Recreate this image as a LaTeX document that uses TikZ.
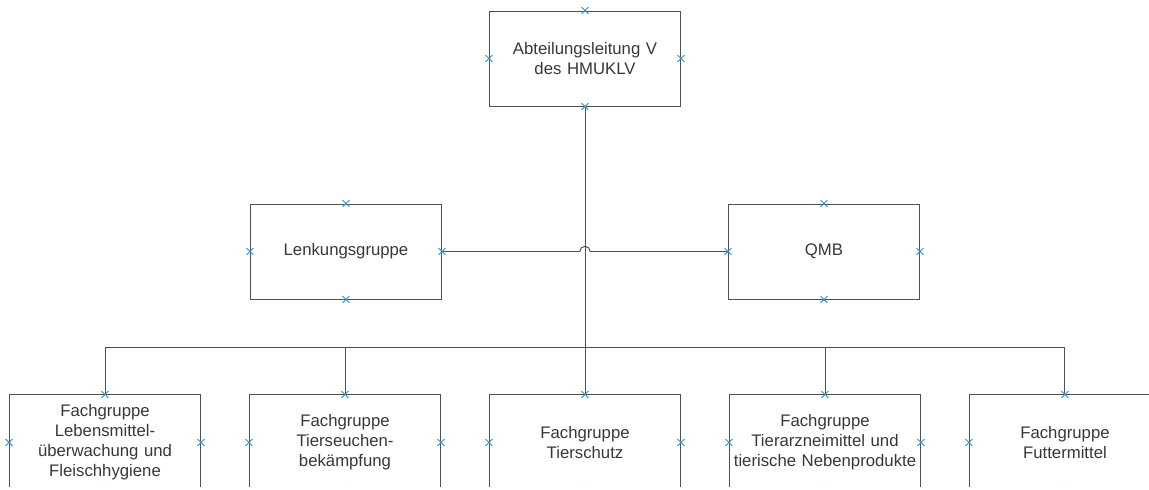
\documentclass[tikz,border=0pt]{standalone}
\usepackage{fontspec}
\setmainfont{Liberation Sans}
\usetikzlibrary{positioning, calc, shapes.misc}
\definecolor{linegray}{RGB}{80,80,80}
\definecolor{textgray}{RGB}{55,55,55}
\definecolor{xblue}{RGB}{60,140,210}
\tikzstyle{unit} = [rectangle, 
minimum width=4.775cm, 
minimum height=2.375cm, 
inner sep=0.04cm, 
text width=4.69cm, 
align=center, 
draw=linegray, 
line width=0.7pt, 
text=textgray, 
font=\fontsize{11.9}{14.2}\selectfont]
\tikzstyle{xcross} = [cross out, draw=xblue, line width=0.7pt, 
minimum size=0.15cm, inner sep=0pt]
\tikzstyle{wire} = [linegray, line width=0.7pt]

\begin{document}
\begin{tikzpicture}

\useasboundingbox (0,0) rectangle (28.725,-12.225);
\clip (-0.1,0.1) rectangle (28.725,-12.17);

\node (top) [unit] at (14.625,-1.4625) {Abteilungsleitung V\\des HMUKLV};
\node (lenk) [unit, below=2.425cm of top, xshift=-5.975cm] {Lenkungsgruppe};
\node (qmb) [unit, below=2.425cm of top, xshift=5.975cm] {QMB};

\node (fg3) [unit, below=2.375cm of lenk, xshift=5.975cm] {Fachgruppe\\Tierschutz};
\node (fg2) [unit, left=1.2cm of fg3] {Fachgruppe\\Tierseuchen-\\bekämpfung};
\node (fg1) [unit, left=1.2cm of fg2] {Fachgruppe\\Lebensmittel-\\überwachung und\\Fleischhygiene};
\node (fg4) [unit, right=1.2cm of fg3] {Fachgruppe\\Tierarzneimittel und\\tierische Nebenprodukte};
\node (fg5) [unit, right=1.2cm of fg4] {Fachgruppe\\Futtermittel};

\coordinate (bus) at ($(top.south |- lenk.south)+(0,-1.2)$);
\draw[wire] (top.south) -- (bus);
\foreach \f in {fg1,fg2,fg3,fg4,fg5}
  \draw[wire] (bus) -| (\f.north);
\draw[wire] (lenk.east) -- ($(bus |- lenk.east)+(-0.13,0)$) arc[start angle=180, end angle=0, radius=0.13] -- (qmb.west);

\foreach \n in {top,lenk,qmb,fg1,fg2,fg3,fg4,fg5}
  \foreach \a in {north,south,east,west}
    \node[xcross] at (\n.\a) {};

\end{tikzpicture}
\end{document}
